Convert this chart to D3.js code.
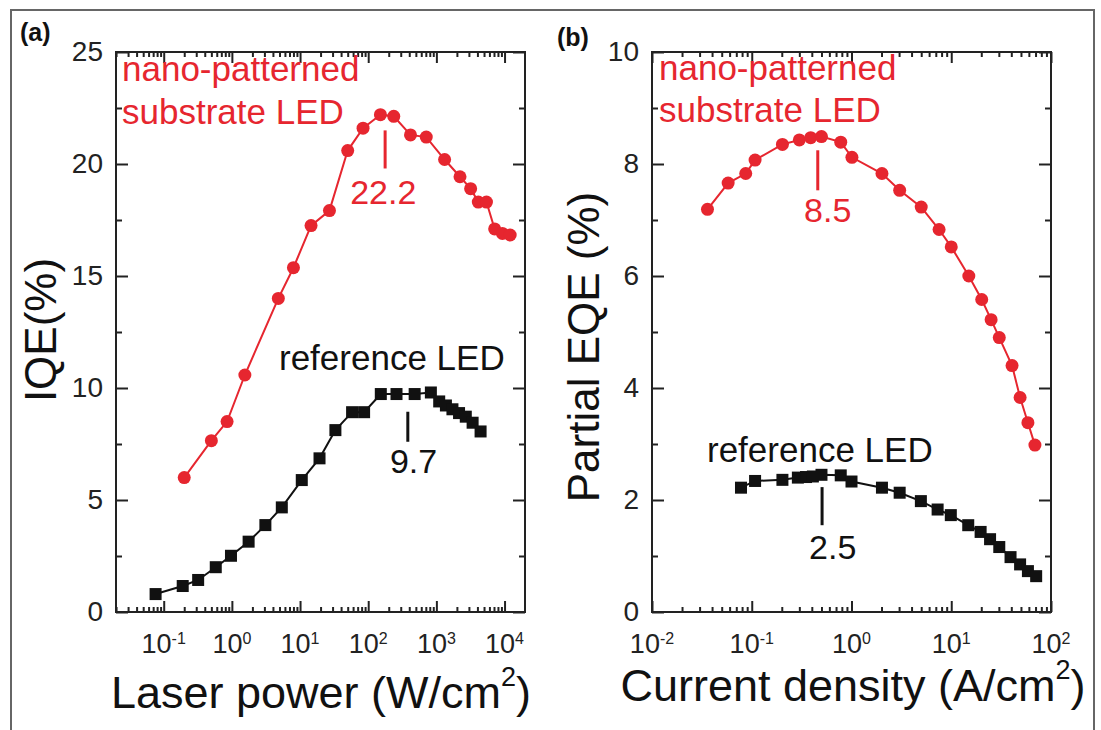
<!DOCTYPE html>
<html><head><meta charset="utf-8">
<script src="https://cdn.jsdelivr.net/npm/d3@7"></script>
<style>
html,body{margin:0;padding:0;background:#fff;}
svg text{font-family:"Liberation Sans",Arial,Helvetica,sans-serif;}
</style></head>
<body><svg id="c" width="1101" height="730"></svg>
<script>
// ---------- DATA ----------
// (a) IQE vs laser power
const laserNano = [0.2,0.5,0.85,1.55,4.8,8.0,14.5,27,50,84,151,237,417,710,1320,2220,3180,4120,5430,7160,9300,12100];
const iqeNano   = [6.0,7.65,8.5,10.58,14.0,15.37,17.25,17.92,20.6,21.6,22.2,22.13,21.3,21.2,20.2,19.43,18.9,18.3,18.3,17.1,16.9,16.83];
const laserRef  = [0.076,0.19,0.32,0.58,0.97,1.76,3.1,5.4,10.6,19.3,33,58,87,153,260,480,830,1100,1380,1720,2150,2700,3400,4450];
const iqeRef    = [0.80,1.16,1.43,2.0,2.51,3.14,3.88,4.67,5.89,6.86,8.12,8.92,8.92,9.73,9.73,9.73,9.8,9.4,9.22,9.05,8.88,8.72,8.45,8.06];
// (b) Partial EQE vs current density
const currNano  = [0.036,0.058,0.087,0.108,0.203,0.30,0.39,0.50,0.78,1.01,2.02,3.04,5.0,7.55,10,15,20.2,25.1,30.3,40.7,49,58.7,69];
const eqeNano   = [7.19,7.66,7.83,8.07,8.35,8.43,8.47,8.49,8.39,8.12,7.83,7.53,7.23,6.83,6.52,6.0,5.58,5.22,4.9,4.4,3.83,3.38,2.98];
const currRef   = [0.078,0.108,0.203,0.29,0.35,0.41,0.50,0.78,1.0,2.02,3.04,4.96,7.3,9.9,14.8,19.7,24.5,30.3,39.3,49,58.7,71];
const eqeRef    = [2.22,2.34,2.36,2.40,2.41,2.42,2.45,2.44,2.33,2.22,2.13,1.98,1.83,1.73,1.55,1.43,1.30,1.16,0.98,0.85,0.73,0.64];
// ticks
const leftXExps  = [-1,0,1,2,3,4];
const rightXExps = [-2,-1,0,1,2];
const leftYTicks = [0,5,10,15,20,25];
const leftYMinor = [2.5,7.5,12.5,17.5,22.5];
const rightYTicks = [0,2,4,6,8,10];
const rightYMinor = [1,3,5,7,9];
// annotations (data units)
const annA = [
  {x:177, y1:21.5, y2:19.8, lx:166, ly:18.2, label:"22.2", color:"red"},
  {x:381, y1:8.94, y2:7.6,  lx:462, ly:6.2,  label:"9.7",  color:"black"}
];
const annB = [
  {x:0.459, y1:8.245, y2:7.53, lx:0.578, ly:6.96, label:"8.5", color:"red"},
  {x:0.507, y1:2.23,  y2:1.55, lx:0.648, ly:0.95, label:"2.5", color:"black"}
];

// ---------- STYLE ----------
const RED = "#e6262f", BLK = "#111", AX = "#222";
const svg = d3.select("#c");

// outer frame
svg.append("path").attr("d","M11,740 L11,10 L1094,10 L1094,740")
  .attr("fill","none").attr("stroke","#666").attr("stroke-width",2);

function minorLog(domain){
  const out=[]; const lo=Math.floor(Math.log10(domain[0])), hi=Math.ceil(Math.log10(domain[1]));
  for(let e=lo;e<hi;e++) for(let k=2;k<=9;k++){const v=k*Math.pow(10,e); if(v>=domain[0]*0.999 && v<=domain[1]) out.push(v);}
  return out;
}

function panel(cfg){
  const x = d3.scaleLog().domain(cfg.xDomain).range(cfg.xRange);
  const y = d3.scaleLinear().domain(cfg.yDomain).range([612,52]);
  const g = svg.append("g");
  const majors = cfg.xExps.map(e=>Math.pow(10,e));
  const minors = minorLog(cfg.xDomain);
  const fmt = () => "";
  const [x0,x1] = cfg.xRange;
  const mk = (axis, tr) => { const a = g.append("g").attr("transform",tr).call(axis);
    a.select(".domain").remove(); a.selectAll("line").attr("stroke",AX).attr("stroke-width",2); a.selectAll("text").remove(); };
  mk(d3.axisBottom(x).tickValues(majors).tickSize(-11).tickFormat(fmt), "translate(0,612)");
  mk(d3.axisBottom(x).tickValues(minors).tickSize(-5).tickFormat(fmt), "translate(0,612)");
  mk(d3.axisTop(x).tickValues(majors).tickSize(-11).tickFormat(fmt), "translate(0,52)");
  mk(d3.axisTop(x).tickValues(minors).tickSize(-5).tickFormat(fmt), "translate(0,52)");
  mk(d3.axisLeft(y).tickValues(cfg.yTicks).tickSize(-12).tickFormat(fmt), `translate(${x0},0)`);
  mk(d3.axisLeft(y).tickValues(cfg.yMinor).tickSize(-6).tickFormat(fmt), `translate(${x0},0)`);
  mk(d3.axisRight(y).tickValues(cfg.yTicks).tickSize(-12).tickFormat(fmt), `translate(${x1},0)`);
  mk(d3.axisRight(y).tickValues(cfg.yMinor).tickSize(-6).tickFormat(fmt), `translate(${x1},0)`);
  g.append("rect").attr("x",x0).attr("y",52).attr("width",x1-x0).attr("height",560)
    .attr("fill","none").attr("stroke",AX).attr("stroke-width",2);

  cfg.xExps.forEach(e=>{
    const t = g.append("text").attr("x",x(Math.pow(10,e))).attr("y",653).attr("text-anchor","middle")
      .attr("fill",AX).attr("font-size",27);
    t.append("tspan").text("10");
    t.append("tspan").attr("font-size",16).attr("dy",-9).text(e<0? "-"+(-e) : String(e));
  });
  cfg.yTicks.forEach(v=>{
    g.append("text").attr("x",x0-13).attr("y",y(v)).attr("dy","0.33em").attr("text-anchor","end")
      .attr("fill",AX).attr("font-size",28).text(v);
  });
  const xt = g.append("text").attr("x",cfg.xTitleX).attr("y",cfg.xTitleY).attr("text-anchor","middle")
    .attr("fill",BLK).attr("font-size",45);
  xt.append("tspan").text(cfg.xTitle);
  xt.append("tspan").attr("font-size",27).attr("dy",-22).text("2");
  xt.append("tspan").attr("dy",22).text(")");
  g.append("text").attr("transform",`translate(${cfg.yTitleX},${cfg.yTitleY}) rotate(-90)`)
    .attr("text-anchor","middle").attr("fill",BLK).attr("font-size",44).text(cfg.yTitle);

  g.append("text").attr("x",cfg.pl[0]).attr("y",cfg.pl[1]).attr("font-family","'DejaVu Sans',sans-serif")
    .attr("font-weight","bold").attr("font-size",25).attr("fill",BLK).text(cfg.panelLabel);

  const line = d3.line().x(d=>x(d[0])).y(d=>y(d[1]));
  const nano = cfg.nx.map((v,i)=>[v,cfg.ny[i]]);
  const ref = cfg.rx.map((v,i)=>[v,cfg.ry[i]]);
  g.append("path").datum(ref).attr("d",line).attr("fill","none").attr("stroke",BLK).attr("stroke-width",2);
  g.append("path").datum(nano).attr("d",line).attr("fill","none").attr("stroke",RED).attr("stroke-width",2);
  g.selectAll(".sq").data(ref).enter().append("rect")
    .attr("x",d=>x(d[0])-6).attr("y",d=>y(d[1])-6).attr("width",12).attr("height",12).attr("fill",BLK);
  g.selectAll(".ci").data(nano).enter().append("circle")
    .attr("cx",d=>x(d[0])).attr("cy",d=>y(d[1])).attr("r",6.5).attr("fill",RED);

  cfg.ann.forEach(a=>{
    const c = a.color==="red"?RED:BLK;
    g.append("line").attr("x1",x(a.x)).attr("x2",x(a.x)).attr("y1",y(a.y1)).attr("y2",y(a.y2))
      .attr("stroke",c).attr("stroke-width",3);
    g.append("text").attr("x",x(a.lx)).attr("y",y(a.ly)).attr("text-anchor","middle")
      .attr("fill",c).attr("font-size",34).text(a.label);
  });
  g.append("text").attr("x",cfg.redText[0]).attr("y",cfg.redText[1]).attr("fill",RED).attr("font-size",35).text("nano-patterned");
  g.append("text").attr("x",cfg.redText[0]).attr("y",cfg.redText[2]).attr("fill",RED).attr("font-size",35).text("substrate LED");
  g.append("text").attr("x",cfg.refText[0]).attr("y",cfg.refText[1]).attr("fill",BLK).attr("font-size",35).text("reference LED");
}

panel({
  xDomain:[Math.pow(10,-1.7),Math.pow(10,4.3)], xRange:[116,525], yDomain:[0,25],
  xExps:leftXExps, yTicks:leftYTicks, yMinor:leftYMinor,
  xTitle:"Laser power (W/cm", xTitleX:321, xTitleY:708,
  yTitle:"IQE(%)", yTitleX:56, yTitleY:330,
  panelLabel:"(a)", pl:[20,41],
  nx:laserNano, ny:iqeNano, rx:laserRef, ry:iqeRef, ann:annA,
  redText:[122,81,124], refText:[279,370]
});
panel({
  xDomain:[1e-2,1e2], xRange:[652,1051], yDomain:[0,10],
  xExps:rightXExps, yTicks:rightYTicks, yMinor:rightYMinor,
  xTitle:"Current density (A/cm", xTitleX:853, xTitleY:701,
  yTitle:"Partial EQE (%)", yTitleX:599, yTitleY:347,
  panelLabel:"(b)", pl:[557,46],
  nx:currNano, ny:eqeNano, rx:currRef, ry:eqeRef, ann:annB,
  redText:[659,80,122], refText:[707,462]
});
</script></body></html>
